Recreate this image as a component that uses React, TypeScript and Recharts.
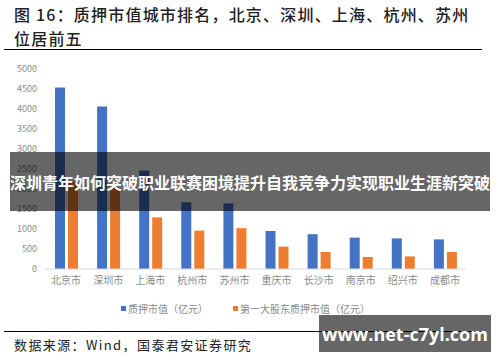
import { BarChart, Bar, XAxis, YAxis, Legend } from 'recharts';

const cities = ['北京市', '深圳市', '上海市', '杭州市', '苏州市', '重庆市', '长沙市', '南京市', '绍兴市', '成都市'];
const pledgeValue = [4540, 4060, 2460, 1670, 1640, 950, 870, 785, 765, 740];
const topHolderValue = [2180, 2020, 1290, 960, 1020, 560, 425, 300, 315, 425];
const yTicks = [0, 500, 1000, 1500, 2000, 2500, 3000, 3500, 4000, 4500, 5000];

const SERIES = [
  { key: 'pledge', name: '质押市值（亿元）', color: '#4472C4' },
  { key: 'top', name: '第一大股东质押市值（亿元）', color: '#ED7D31' },
];

const chartData = cities.map((city, i) => ({
  city,
  pledge: pledgeValue[i],
  top: topHolderValue[i],
}));

const FONT = '"Noto Sans CJK SC", "Noto Sans", sans-serif';

function LegendContent() {
  return (
    <div style={{ display: 'flex', justifyContent: 'center', gap: 25, fontFamily: FONT, fontSize: 10, color: '#8a8a8a' }}>
      {SERIES.map((s) => (
        <div key={s.key} style={{ display: 'flex', alignItems: 'center', gap: 2 }}>
          <span style={{ display: 'inline-block', width: 5, height: 5, background: s.color }} />
          <span>{s.name}</span>
        </div>
      ))}
    </div>
  );
}

export default function App() {
  return (
    <div style={{ position: 'absolute', left: 0, top: 0, width: 500, height: 362, background: '#fff', overflow: 'hidden', fontFamily: FONT }}>
      <div style={{ position: 'absolute', left: 14, top: 2, fontSize: 16, fontWeight: 500, letterSpacing: 1.2, lineHeight: '24px', color: '#222' }}>
        <div>图 16：质押市值城市排名，北京、深圳、上海、杭州、苏州</div>
        <div>位居前五</div>
      </div>
      <div style={{ position: 'absolute', left: 4, top: 49, width: 478, height: 1, background: '#000' }} />

      <div style={{ position: 'absolute', left: 0, top: 0 }}>
        <BarChart
          width={500}
          height={362}
          data={chartData}
          margin={{ top: 69, right: 34, left: 0, bottom: 63 }}
          barSize={10}
          barGap={3}
        >
          <XAxis
            dataKey="city"
            tickLine={false}
            axisLine={{ stroke: '#d9d9d9' }}
            tick={{ fontSize: 10, fill: '#8a8a8a', fontFamily: FONT }}
            interval={0}
            height={30}
          />
          <YAxis
            domain={[0, 5000]}
            ticks={yTicks}
            width={45}
            tickLine={false}
            axisLine={false}
            tick={{ fontSize: 9, fill: '#8a8a8a' }}
          />
          <Legend
            layout="horizontal"
            verticalAlign="middle"
            align="center"
            wrapperStyle={{ top: 301, left: 0, width: 491 }}
            content={() => <LegendContent />}
          />
          {SERIES.map((s) => (
            <Bar key={s.key} dataKey={s.key} name={s.name} fill={s.color} isAnimationActive={false} />
          ))}
        </BarChart>
      </div>

      <div style={{ position: 'absolute', left: 4, top: 331, width: 478, height: 1, background: '#000' }} />
      <div style={{ position: 'absolute', left: 14, top: 336, fontSize: 13, letterSpacing: 1.4, color: '#222', lineHeight: '18px' }}>
        数据来源：Wind，国泰君安证券研究
      </div>

      <div style={{ position: 'absolute', left: 10, top: 152, width: 480, height: 59, background: 'rgba(0,0,0,0.6)', display: 'flex', alignItems: 'center', justifyContent: 'center', color: '#fff', fontSize: 16, fontWeight: 'bold', whiteSpace: 'nowrap' }}>
        深圳青年如何突破职业联赛困境提升自我竞争力实现职业生涯新突破
      </div>
      <div style={{ position: 'absolute', left: 319, top: 315, width: 172, height: 37, background: 'rgba(0,0,0,0.6)', display: 'flex', alignItems: 'center', justifyContent: 'center', color: '#fff', fontSize: 18, fontWeight: 'bold', fontFamily: '"Open Sans", "Noto Sans", sans-serif' }}>
        www.net-c7yl.com
      </div>
    </div>
  );
}
